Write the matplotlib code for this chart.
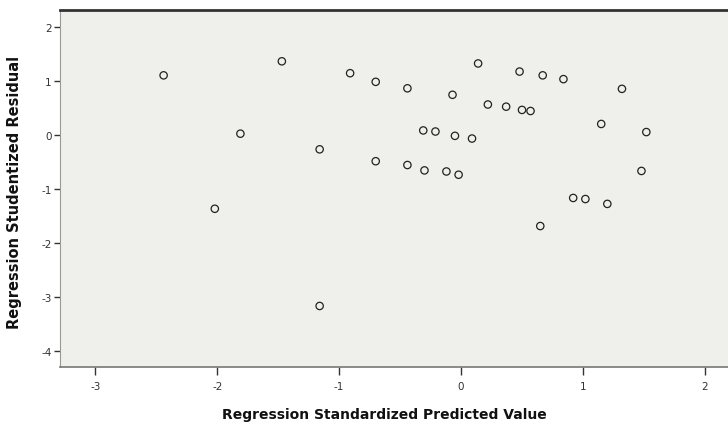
import matplotlib.pyplot as plt

# Standardized predicted values (x) and studentized residuals (y)
pred_std = [-2.44, -1.47, -1.81, -2.02, -1.16, -1.16, -0.91, -0.70, -0.70, -0.44,
            -0.44, -0.31, -0.21, -0.30, -0.12, -0.07, -0.05, -0.02, 0.09, 0.14,
            0.22, 0.37, 0.48, 0.50, 0.57, 0.67, 0.65, 0.84, 0.92, 1.02,
            1.20, 1.15, 1.32, 1.48, 1.52]
resid_stud = [1.10, 1.36, 0.02, -1.37, -0.27, -3.17, 1.14, 0.98, -0.49, 0.86,
              -0.56, 0.08, 0.06, -0.66, -0.68, 0.74, -0.02, -0.74, -0.07, 1.32,
              0.56, 0.52, 1.17, 0.46, 0.44, 1.10, -1.69, 1.03, -1.17, -1.19,
              -1.28, 0.20, 0.85, -0.67, 0.05]

x_ticks = [-3, -2, -1, 0, 1, 2]
y_ticks = [2, 1, 0, -1, -2, -3, -4]

fig = plt.figure(figsize=(7.28, 4.27), dpi=100)
ax = fig.add_axes([60 / 728, 1 - 368 / 427, 1 - 60 / 728, (368 - 11) / 427])
ax.set_facecolor("#efefeb")

ax.scatter(pred_std, resid_stud, s=28, facecolors="none", edgecolors="#222222",
           linewidths=0.9)

ax.set_xlim(-3.29, 2.19)
ax.set_ylim(-4.30, 2.31)
ax.set_xticks(x_ticks)
ax.set_yticks(y_ticks)
ax.set_xticklabels([str(v) for v in x_ticks])
ax.set_yticklabels([str(v) for v in y_ticks])
ax.tick_params(axis="both", labelsize=7.5, colors="#333333", direction="out")
ax.tick_params(axis="x", length=6, width=1, pad=4)
ax.tick_params(axis="y", length=4, width=1, pad=2)

ax.spines["right"].set_visible(False)
ax.spines["top"].set_color("#333333")
ax.spines["top"].set_linewidth(2)
ax.spines["left"].set_color("#999999")
ax.spines["bottom"].set_color("#777777")
ax.spines["bottom"].set_linewidth(1.2)

ax.set_xlabel("Regression Standardized Predicted Value", fontsize=10,
              fontweight="bold", color="#111111")
ax.set_ylabel("Regression Studentized Residual", fontsize=10.5,
              fontweight="bold", color="#111111")
ax.xaxis.set_label_coords((384 - 60) / 668, -40 / 357)
ax.yaxis.set_label_coords(-38 / 668, (368 - 192) / 357)

fig.savefig("out.png", dpi=100)
